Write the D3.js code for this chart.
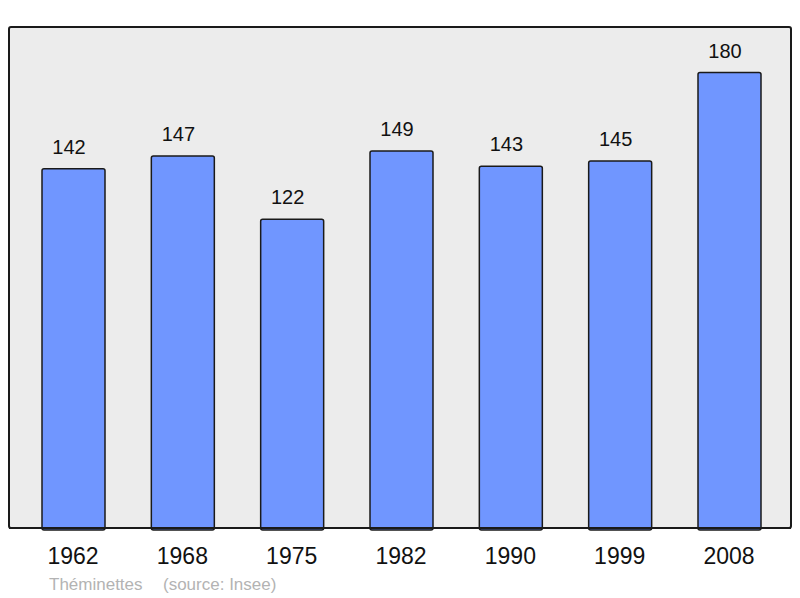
<!DOCTYPE html>
<html>
<head>
<meta charset="utf-8">
<script src="https://cdn.jsdelivr.net/npm/d3@7"></script>
<style>
  html, body { margin: 0; padding: 0; background: #fff; }
  text { font-family: "Liberation Sans", Arial, sans-serif; }
</style>
</head>
<body>
<div id="chart"></div>
<script>
// data
const years = ["1962", "1968", "1975", "1982", "1990", "1999", "2008"];
const population = [142, 147, 122, 149, 143, 145, 180];
const townName = "Théminettes";
const sourceText = "(source: Insee)";

const width = 800,
  height = 598,
  panel = { left: 9, top: 27, right: 791, bottom: 528 };

const svg = d3.select("#chart")
  .append("svg")
  .attr("width", width)
  .attr("height", height);

// background panel
svg.append("rect")
  .attr("x", panel.left)
  .attr("y", panel.top)
  .attr("width", panel.right - panel.left)
  .attr("height", panel.bottom - panel.top)
  .attr("rx", 2)
  .attr("fill", "#ececec")
  .attr("stroke", "#1a1a1a")
  .attr("stroke-width", 2);

const x = d3.scalePoint()
  .domain(years)
  .range([73.5, 729.5]);

const barWidth = 63;

const y = d3.scaleLinear()
  .domain([0, d3.max(population) * 1.1])
  .range([panel.bottom, panel.top]);

const bars = svg.selectAll(".bar")
  .data(years.map((yr, i) => ({ year: yr, value: population[i] })))
  .join("g")
  .attr("class", "bar");

bars.append("rect")
  .attr("x", d => x(d.year) - barWidth / 2)
  .attr("y", d => y(d.value))
  .attr("width", barWidth)
  .attr("height", d => y(0) - y(d.value) + 2)
  .attr("rx", 2)
  .attr("fill", "#7096ff")
  .attr("stroke", "#1a1a1a")
  .attr("stroke-width", 1.5);

// value labels (sit a little left of bar centre in the original)
bars.append("text")
  .attr("x", d => x(d.year) - 4.5)
  .attr("y", d => y(d.value) - 15)
  .attr("text-anchor", "middle")
  .attr("font-size", 20)
  .attr("fill", "#111")
  .text(d => d.value);

// redraw bottom border over bar ends
svg.append("line")
  .attr("x1", panel.left)
  .attr("x2", panel.right)
  .attr("y1", panel.bottom)
  .attr("y2", panel.bottom)
  .attr("stroke", "#1a1a1a")
  .attr("stroke-width", 2);

// x axis labels
const xAxis = d3.axisBottom(x).tickSize(0).tickPadding(0);
const gx = svg.append("g")
  .attr("transform", `translate(0, ${panel.bottom})`)
  .call(xAxis);
gx.select(".domain").remove();
gx.selectAll("text")
  .attr("dy", null)
  .attr("x", -1)
  .attr("y", 36)
  .attr("font-size", 23)
  .attr("font-family", "Liberation Sans, Arial, sans-serif")
  .attr("fill", "#111");

// footer
svg.append("text")
  .attr("x", 49)
  .attr("y", 590)
  .attr("font-size", 17)
  .attr("fill", "#b3b3b3")
  .text(townName);

svg.append("text")
  .attr("x", 163)
  .attr("y", 590)
  .attr("font-size", 17)
  .attr("fill", "#b3b3b3")
  .text(sourceText);
</script>
</body>
</html>
